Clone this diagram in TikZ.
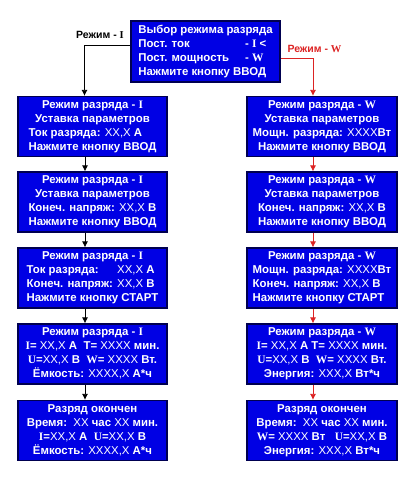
\documentclass[tikz,border=0pt]{standalone}
\usepackage{fontspec}
\setmainfont{Liberation Sans}
\newfontfamily\symfont{Liberation Serif}
\usepackage{array}
\usetikzlibrary{arrows.meta}
\definecolor{lcdblue}{RGB}{0,0,228}
\definecolor{lcdedge}{RGB}{0,0,80}
\definecolor{modered}{RGB}{220,35,35}
\newcommand{\sym}[1]{{\symfont\bfseries #1}}
\newcommand{\val}[1]{{\mdseries #1}}
\newcommand{\ctr}[1]{\multicolumn{1}{@{}c@{}}{#1}}

\tikzset{
  screen/.style={draw=lcdedge, line width=1.2pt, fill=lcdblue, text=white,
    minimum width=149pt, minimum height=60pt, inner sep=0pt,
    font=\fontsize{11.4}{14}\selectfont\bfseries},
  modelabel/.style={font=\fontsize{10.5}{12}\selectfont\bfseries},
  flow/.style={-{Latex[length=6pt,width=6pt]}, line width=0.8pt},
}

\begin{document}
\begin{tikzpicture}[x=1pt, y=-1pt]
  \useasboundingbox (0,0) rectangle (415,480);

  % mode selection
  \node[screen, minimum height=61pt] (menu) at (205.5,51.5) {\begin{tabular}{@{}l@{\hspace{16pt}}l@{}}
    \multicolumn{2}{@{}l@{}}{Выбор режима разряда}\\
    Пост. ток & - \sym{I} <\\
    Пост. мощность & - \sym{W}\\
    \multicolumn{2}{@{}l@{}}{Нажмите кнопку ВВОД}
  \end{tabular}};

  % constant current
  \node[screen] (cur1) at (92.5,126.5) {\begin{tabular}{@{}l@{}}
    \ctr{Режим разряда - \sym{I}}\\
    \ctr{Уставка параметров}\\
    Ток разряда: \val{XX,X} А\\
    Нажмите кнопку ВВОД
  \end{tabular}};
  \node[screen] (cur2) at (92.5,202) {\begin{tabular}{@{}l@{}}
    \ctr{Режим разряда - \sym{I}}\\
    \ctr{Уставка параметров}\\
    Конеч. напряж: \val{XX,X} В\\
    Нажмите кнопку ВВОД
  \end{tabular}};
  \node[screen] (cur3) at (92.5,278) {\begin{tabular}{@{}l@{ }l@{}}
    \multicolumn{2}{@{}c@{}}{Режим разряда - \sym{I}}\\
    Ток разряда: & \val{XX,X} А\\
    Конеч. напряж: & \val{XX,X} В\\
    \multicolumn{2}{@{}l@{}}{Нажмите кнопку СТАРТ}
  \end{tabular}};
  \node[screen] (cur4) at (92.5,354) {\begin{tabular}{@{}c@{}}
    Режим разряда - \sym{I}\\
    \sym{I}= \val{XX,X} А\ \ T= \val{XXXX} мин.\\
    \sym{U}=\val{XX,X} В\ \ \sym{W}= \val{XXXX} Вт.\\
    Ёмкость: \val{XXXX,X} А*ч
  \end{tabular}};
  \node[screen] (cur5) at (92.5,430.5) {\begin{tabular}{@{}c@{}}
    Разряд окончен\\
    Время:\ \ \val{XX} час \val{XX} мин.\\
    \sym{I}=\val{XX,X} А\ \ \sym{U}=\val{XX,X} В\\
    Ёмкость: \val{XXXX,X} А*ч
  \end{tabular}};

  % constant power
  \node[screen, minimum width=150pt] (pow1) at (322,126.5) {\begin{tabular}{@{}c@{}}
    Режим разряда - \sym{W}\\
    Уставка параметров\\
    Мощн. разряда: \val{XXXX}Вт\\
    Нажмите кнопку ВВОД
  \end{tabular}};
  \node[screen, minimum width=150pt] (pow2) at (322,202) {\begin{tabular}{@{}l@{}}
    \ctr{Режим разряда - \sym{W}}\\
    \ctr{Уставка параметров}\\
    Конеч. напряж: \val{XX,X} В\\
    Нажмите кнопку ВВОД
  \end{tabular}};
  \node[screen, minimum width=150pt] (pow3) at (322,278) {\begin{tabular}{@{}l@{}}
    \ctr{Режим разряда - \sym{W}}\\
    Мощн. разряда: \val{XXXX}Вт\\
    Конеч. напряж: \val{XX,X} В\\
    Нажмите кнопку СТАРТ
  \end{tabular}};
  \node[screen, minimum width=150pt] (pow4) at (322,354) {\begin{tabular}{@{}c@{}}
    Режим разряда - \sym{W}\\
    \sym{I}= \val{XX,X} А\ T= \val{XXXX} мин.\\
    \sym{U}=\val{XX,X} В\ \ \sym{W}= \val{XXXX} Вт.\\
    Энергия: \val{XXX,X} Вт*ч
  \end{tabular}};
  \node[screen, minimum width=150pt] (pow5) at (322,430.5) {\begin{tabular}{@{}c@{}}
    Разряд окончен\\
    Время:\ \ \val{XX} час \val{XX} мин.\\
    \sym{W}= \val{XXXX} Вт\ \ \ \sym{U}=\val{XX,X} В\\
    Энергия: \val{XXX,X} Вт*ч
  \end{tabular}};

  % branch labels
  \node[modelabel] (lblcur) at (100,35) {Режим - \sym{I}};
  \node[modelabel, text=modered] (lblpow) at (314.5,49) {Режим - \sym{W}};

  % connectors
  \draw[flow] ([yshift=6.5pt]menu.west) -| ([xshift=-8pt]cur1.north);
  \draw[flow, modered] ([yshift=-6.5pt]menu.east) -| ([xshift=-9pt]pow1.north);
  \foreach \a/\b in {cur1/cur2, cur2/cur3, cur3/cur4, cur4/cur5}
    \draw[flow] ([xshift=-7.5pt]\a.south) -- ([xshift=-7.5pt]\b.north);
  \foreach \a/\b in {pow1/pow2, pow2/pow3, pow3/pow4, pow4/pow5}
    \draw[flow, modered] ([xshift=-9pt]\a.south) -- ([xshift=-9pt]\b.north);
\end{tikzpicture}
\end{document}
